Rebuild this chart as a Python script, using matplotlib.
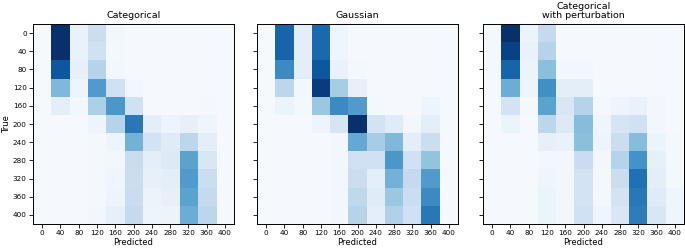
import numpy as np
import matplotlib
matplotlib.use("Agg")
import matplotlib.pyplot as plt

labels = [0, 40, 80, 120, 160, 200, 240, 280, 320, 360, 400]
titles = ["Categorical", "Gaussian", "Categorical\nwith perturbation"]

categorical = [
    [0.01, 1.00, 0.07, 0.22, 0.03, 0.01, 0.01, 0.01, 0.01, 0.01, 0.01],
    [0.01, 1.00, 0.07, 0.20, 0.02, 0.01, 0.01, 0.01, 0.01, 0.01, 0.01],
    [0.01, 0.85, 0.08, 0.30, 0.03, 0.01, 0.01, 0.01, 0.01, 0.01, 0.01],
    [0.01, 0.45, 0.05, 0.58, 0.20, 0.03, 0.01, 0.01, 0.01, 0.01, 0.01],
    [0.01, 0.10, 0.03, 0.33, 0.60, 0.20, 0.01, 0.01, 0.01, 0.02, 0.01],
    [0.01, 0.01, 0.01, 0.05, 0.30, 0.72, 0.10, 0.05, 0.08, 0.04, 0.01],
    [0.01, 0.01, 0.01, 0.02, 0.05, 0.48, 0.18, 0.12, 0.28, 0.10, 0.01],
    [0.01, 0.01, 0.01, 0.02, 0.03, 0.23, 0.10, 0.13, 0.55, 0.15, 0.01],
    [0.01, 0.01, 0.01, 0.02, 0.04, 0.22, 0.08, 0.10, 0.58, 0.22, 0.01],
    [0.01, 0.01, 0.01, 0.02, 0.05, 0.23, 0.06, 0.08, 0.55, 0.25, 0.01],
    [0.01, 0.01, 0.01, 0.03, 0.08, 0.25, 0.05, 0.06, 0.50, 0.28, 0.01],
]

gaussian = [
    [0.01, 0.80, 0.10, 0.78, 0.04, 0.01, 0.01, 0.01, 0.01, 0.01, 0.01],
    [0.01, 0.80, 0.10, 0.78, 0.04, 0.01, 0.01, 0.01, 0.01, 0.01, 0.01],
    [0.01, 0.65, 0.10, 0.85, 0.07, 0.02, 0.01, 0.01, 0.01, 0.01, 0.01],
    [0.01, 0.28, 0.03, 0.95, 0.35, 0.08, 0.01, 0.01, 0.01, 0.01, 0.01],
    [0.01, 0.06, 0.02, 0.38, 0.65, 0.58, 0.02, 0.01, 0.01, 0.05, 0.01],
    [0.01, 0.01, 0.01, 0.05, 0.17, 1.00, 0.18, 0.12, 0.03, 0.10, 0.01],
    [0.01, 0.01, 0.01, 0.01, 0.03, 0.52, 0.35, 0.45, 0.10, 0.22, 0.01],
    [0.01, 0.01, 0.01, 0.01, 0.03, 0.20, 0.20, 0.60, 0.20, 0.40, 0.01],
    [0.01, 0.01, 0.01, 0.01, 0.03, 0.22, 0.10, 0.48, 0.25, 0.58, 0.01],
    [0.01, 0.01, 0.01, 0.01, 0.03, 0.27, 0.12, 0.38, 0.22, 0.65, 0.01],
    [0.01, 0.01, 0.01, 0.01, 0.03, 0.30, 0.10, 0.32, 0.20, 0.72, 0.01],
]

perturbed = [
    [0.02, 1.00, 0.06, 0.25, 0.01, 0.01, 0.01, 0.01, 0.01, 0.01, 0.01],
    [0.02, 0.93, 0.07, 0.30, 0.01, 0.01, 0.01, 0.01, 0.01, 0.01, 0.01],
    [0.02, 0.80, 0.06, 0.42, 0.03, 0.03, 0.01, 0.01, 0.01, 0.01, 0.01],
    [0.01, 0.50, 0.05, 0.63, 0.10, 0.10, 0.01, 0.01, 0.01, 0.01, 0.01],
    [0.01, 0.18, 0.02, 0.55, 0.15, 0.30, 0.02, 0.05, 0.07, 0.03, 0.01],
    [0.01, 0.06, 0.01, 0.28, 0.13, 0.43, 0.04, 0.17, 0.20, 0.03, 0.01],
    [0.01, 0.01, 0.01, 0.08, 0.07, 0.42, 0.05, 0.22, 0.43, 0.06, 0.02],
    [0.01, 0.01, 0.01, 0.03, 0.03, 0.23, 0.03, 0.30, 0.62, 0.08, 0.02],
    [0.01, 0.01, 0.01, 0.04, 0.03, 0.18, 0.02, 0.22, 0.75, 0.10, 0.02],
    [0.01, 0.01, 0.01, 0.06, 0.03, 0.18, 0.02, 0.18, 0.72, 0.12, 0.04],
    [0.01, 0.01, 0.01, 0.06, 0.03, 0.20, 0.04, 0.15, 0.70, 0.15, 0.04],
]

matrices = [categorical, gaussian, perturbed]

fig = plt.figure(figsize=(6.85, 2.48), dpi=100)
lefts = [33 / 685, 257 / 685, 483 / 685]
w = 201 / 685
b = 24 / 248
h = 200 / 248

for i, (m, t) in enumerate(zip(matrices, titles)):
    ax = fig.add_axes([lefts[i], b, w, h])
    ax.imshow(np.array(m), cmap="Blues", vmin=0, vmax=1, aspect="auto",
              interpolation="nearest")
    ax.set_xticks(range(len(labels)))
    ax.set_xticklabels(labels, fontsize=5.2)
    ax.set_yticks(range(len(labels)))
    if i == 0:
        ax.set_yticklabels(labels, fontsize=5.2)
        ax.set_ylabel("True", fontsize=6, labelpad=1)
    else:
        ax.set_yticklabels([])
    ax.set_xlabel("Predicted", fontsize=6, labelpad=1)
    ax.set_title(t, fontsize=6.8, pad=4, linespacing=1.05)
    ax.tick_params(length=3, pad=1.5, width=0.6)
    for s in ax.spines.values():
        s.set_linewidth(0.7)

fig.savefig("out.png", dpi=100)
